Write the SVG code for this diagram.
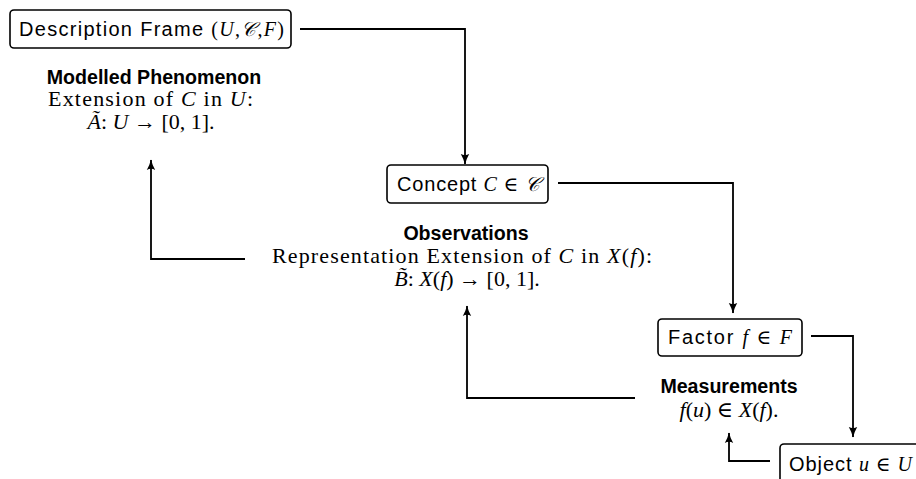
<svg xmlns="http://www.w3.org/2000/svg" width="916" height="479" viewBox="0 0 916 479">
<defs>
<style>
.box{fill:#fff;stroke:#000;stroke-width:1.6}
.sans{font-family:"Liberation Sans","DejaVu Sans",sans-serif;font-size:20px;fill:#000}
.bold{font-family:"Liberation Sans","DejaVu Sans",sans-serif;font-size:19.6px;font-weight:bold;fill:#000}
.serif{font-family:"Liberation Serif","DejaVu Serif",serif;font-size:22px;fill:#000}
.m{font-family:"Liberation Serif","DejaVu Serif",serif;font-style:italic}
.r{font-family:"Liberation Serif","DejaVu Serif",serif;font-style:normal}
.conn{fill:none;stroke:#000;stroke-width:1.8}
</style>
<marker id="arr" viewBox="0 0 10 10" refX="9" refY="5" markerWidth="11" markerHeight="11" markerUnits="userSpaceOnUse" orient="auto">
<path d="M0,1.2 Q5,4 9.5,5 Q5,6 0,8.8 Q2,5 0,1.2 Z" fill="#000"/>
</marker>
</defs>
<g id="connectors">
<path class="conn" d="M300,29 H465 V164" marker-end="url(#arr)"/>
<path class="conn" d="M558,183 H733 V313" marker-end="url(#arr)"/>
<path class="conn" d="M811,336 H853 V437" marker-end="url(#arr)"/>
<path class="conn" d="M770,461 H729 V433" marker-end="url(#arr)"/>
<path class="conn" d="M635,398 H467 V306" marker-end="url(#arr)"/>
<path class="conn" d="M245,259 H151 V160" marker-end="url(#arr)"/>
</g>
<g id="description-frame">
<rect class="box" x="10" y="10" width="281" height="38" rx="4"/>
<text class="sans" x="19" y="36" textLength="265" lengthAdjust="spacing">Description Frame <tspan class="r">(</tspan><tspan class="m">U</tspan><tspan class="r">,</tspan><tspan class="m">𝒞</tspan><tspan class="r">,</tspan><tspan class="m">F</tspan><tspan class="r">)</tspan></text>
</g>
<g id="modelled-phenomenon">
<text class="bold" x="154" y="84" text-anchor="middle">Modelled Phenomenon</text>
<text class="serif" x="48" y="106" textLength="205" lengthAdjust="spacing">Extension of <tspan class="m">C</tspan> in <tspan class="m">U</tspan>:</text>
<text class="serif" x="151" y="129" text-anchor="middle"><tspan class="m">Ã</tspan>: <tspan class="m">U</tspan> → [0, 1].</text>
</g>
<g id="concept">
<rect class="box" x="387" y="165" width="161" height="38" rx="4"/>
<text class="sans" x="397" y="191" textLength="143" lengthAdjust="spacing">Concept <tspan class="m">C</tspan><tspan class="r"> ∈ </tspan><tspan class="m">𝒞</tspan></text>
</g>
<g id="observations">
<text class="bold" x="466" y="240" text-anchor="middle">Observations</text>
<text class="serif" x="272" y="263" textLength="380" lengthAdjust="spacing">Representation Extension of <tspan class="m">C</tspan> in <tspan class="m">X</tspan>(<tspan class="m">f</tspan>):</text>
<text class="serif" x="467" y="286" text-anchor="middle"><tspan class="m">B̃</tspan>: <tspan class="m">X</tspan>(<tspan class="m">f</tspan>) → [0, 1].</text>
</g>
<g id="factor">
<rect class="box" x="658" y="319" width="144" height="37" rx="4"/>
<text class="sans" x="668" y="344" textLength="124" lengthAdjust="spacing">Factor <tspan class="m">f</tspan><tspan class="r"> ∈ </tspan><tspan class="m">F</tspan></text>
</g>
<g id="measurements">
<text class="bold" x="729" y="393" text-anchor="middle">Measurements</text>
<text class="serif" x="729" y="417" text-anchor="middle"><tspan class="m">f</tspan>(<tspan class="m">u</tspan>) ∈ <tspan class="m">X</tspan>(<tspan class="m">f</tspan>).</text>
</g>
<g id="object">
<rect class="box" x="780" y="444" width="160" height="50" rx="4"/>
<text class="sans" x="789" y="471" textLength="123" lengthAdjust="spacing">Object <tspan class="m">u</tspan><tspan class="r"> ∈ </tspan><tspan class="m">U</tspan></text>
</g>
</svg>
